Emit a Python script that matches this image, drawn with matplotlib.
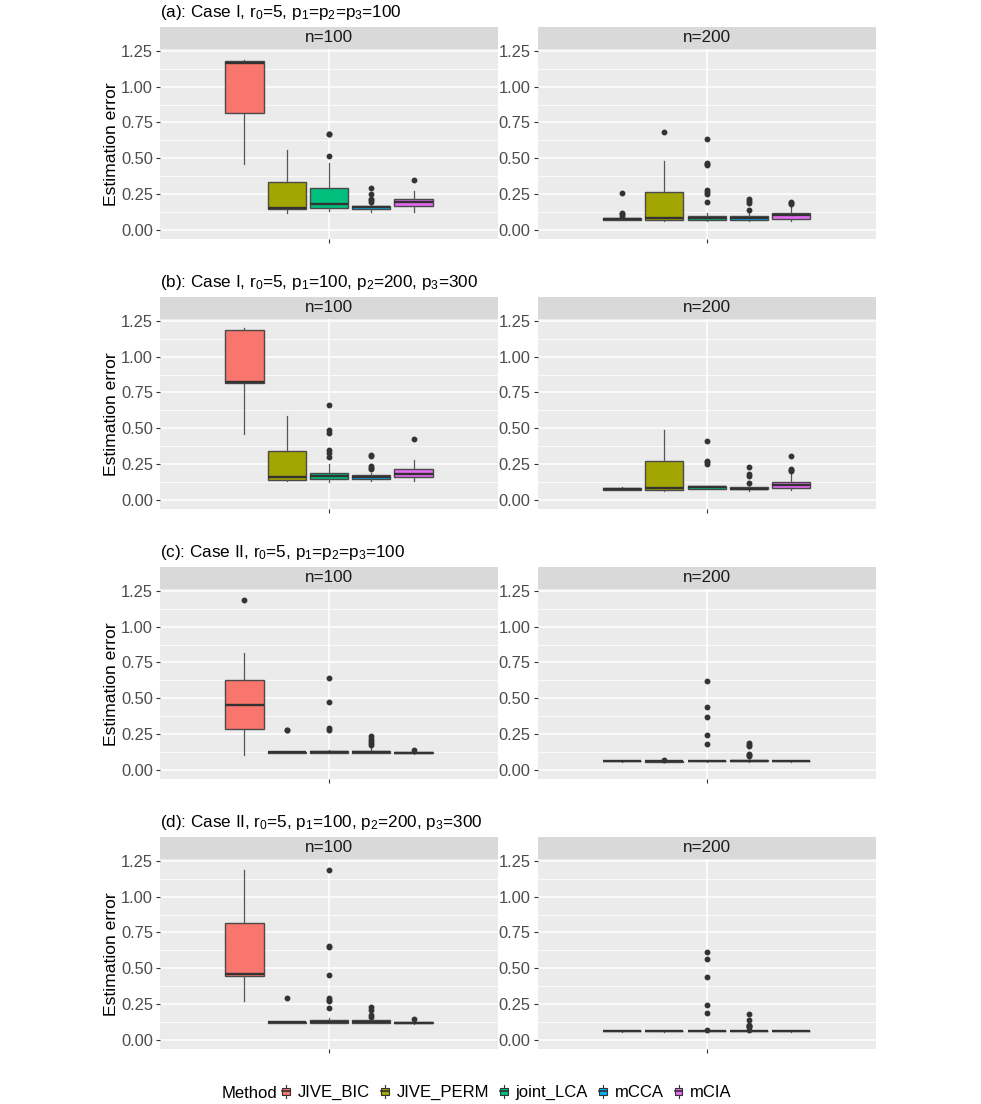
import matplotlib
matplotlib.use("Agg")
import matplotlib.pyplot as plt
import matplotlib.patches as mpatches
from matplotlib.lines import Line2D
from matplotlib.legend_handler import HandlerBase

METHODS = ["JIVE_BIC", "JIVE_PERM", "joint_LCA", "mCCA", "mCIA"]
COLORS = ["#F8766D", "#A3A500", "#00BF7D", "#00B0F6", "#E76BF3"]

ROW_TITLES = [
    r"(a): Case I, r$\mathregular{_0}$=5, p$\mathregular{_1}$=p$\mathregular{_2}$=p$\mathregular{_3}$=100",
    r"(b): Case I, r$\mathregular{_0}$=5, p$\mathregular{_1}$=100, p$\mathregular{_2}$=200, p$\mathregular{_3}$=300",
    r"(c): Case II, r$\mathregular{_0}$=5, p$\mathregular{_1}$=p$\mathregular{_2}$=p$\mathregular{_3}$=100",
    r"(d): Case II, r$\mathregular{_0}$=5, p$\mathregular{_1}$=100, p$\mathregular{_2}$=200, p$\mathregular{_3}$=300",
]
FACETS = ["n=100", "n=200"]
YTICKS = [0.00, 0.25, 0.50, 0.75, 1.00, 1.25]

# box stats: (whisker low, q1, median, q3, whisker high)
A100_STATS = [(0.460, 0.815, 1.165, 1.175, 1.185),
              (0.116, 0.144, 0.155, 0.337, 0.557),
              (0.132, 0.151, 0.179, 0.295, 0.465),
              (0.123, 0.144, 0.158, 0.169, 0.180),
              (0.123, 0.167, 0.193, 0.214, 0.274)]
A100_OUT = [[], [], [0.518, 0.669, 0.672],
            [0.195, 0.209, 0.215, 0.251, 0.290], [0.348]]

A200_STATS = [(0.068, 0.072, 0.078, 0.083, 0.092),
              (0.063, 0.070, 0.081, 0.267, 0.481),
              (0.065, 0.072, 0.086, 0.100, 0.115),
              (0.063, 0.069, 0.083, 0.095, 0.116),
              (0.065, 0.079, 0.105, 0.116, 0.163)]
A200_OUT = [[0.100, 0.108, 0.116, 0.260], [0.681],
            [0.197, 0.250, 0.265, 0.280, 0.450, 0.460, 0.470, 0.634],
            [0.139, 0.186, 0.200, 0.214], [0.179, 0.190, 0.197]]

B100_STATS = [(0.459, 0.814, 0.826, 1.185, 1.197),
              (0.130, 0.141, 0.160, 0.339, 0.587),
              (0.125, 0.146, 0.169, 0.186, 0.250),
              (0.130, 0.146, 0.160, 0.172, 0.190),
              (0.135, 0.160, 0.181, 0.216, 0.281)]
B100_OUT = [[], [], [0.299, 0.327, 0.350, 0.466, 0.489, 0.661],
            [0.215, 0.225, 0.235, 0.304, 0.315], [0.422]]

B200_STATS = [(0.068, 0.072, 0.077, 0.082, 0.092),
              (0.063, 0.067, 0.083, 0.274, 0.485),
              (0.075, 0.080, 0.088, 0.095, 0.100),
              (0.065, 0.075, 0.080, 0.088, 0.100),
              (0.070, 0.081, 0.107, 0.123, 0.185)]
B200_OUT = [[], [], [0.250, 0.264, 0.275, 0.408],
            [0.118, 0.165, 0.181, 0.227], [0.200, 0.210, 0.218, 0.304]]

C100_STATS = [(0.104, 0.283, 0.452, 0.626, 0.816),
              (0.115, 0.118, 0.122, 0.126, 0.130),
              (0.115, 0.120, 0.125, 0.135, 0.140),
              (0.115, 0.120, 0.125, 0.132, 0.150),
              (0.112, 0.118, 0.121, 0.125, 0.128)]
C100_OUT = [[1.185], [0.278, 0.282], [0.280, 0.290, 0.475, 0.642],
            [0.175, 0.185, 0.200, 0.213, 0.237], [0.139]]

C200_STATS = [(0.058, 0.060, 0.062, 0.064, 0.066),
              (0.056, 0.058, 0.060, 0.062, 0.064),
              (0.058, 0.060, 0.063, 0.066, 0.070),
              (0.058, 0.060, 0.065, 0.072, 0.085),
              (0.058, 0.060, 0.062, 0.064, 0.066)]
C200_OUT = [[], [0.070], [0.183, 0.241, 0.371, 0.440, 0.624],
            [0.100, 0.105, 0.109, 0.165, 0.175, 0.188], []]

D100_STATS = [(0.271, 0.445, 0.457, 0.816, 1.185),
              (0.115, 0.118, 0.122, 0.126, 0.130),
              (0.115, 0.120, 0.125, 0.140, 0.150),
              (0.115, 0.120, 0.128, 0.140, 0.155),
              (0.112, 0.118, 0.121, 0.125, 0.130)]
D100_OUT = [[], [0.290],
            [0.225, 0.270, 0.280, 0.295, 0.450, 0.650, 0.658, 1.185],
            [0.162, 0.174, 0.206, 0.230], [0.148]]

D200_STATS = [(0.058, 0.060, 0.062, 0.064, 0.066),
              (0.058, 0.060, 0.062, 0.064, 0.066),
              (0.058, 0.060, 0.062, 0.065, 0.068),
              (0.058, 0.060, 0.062, 0.065, 0.068),
              (0.058, 0.060, 0.062, 0.064, 0.066)]
D200_OUT = [[], [], [0.070, 0.190, 0.241, 0.440, 0.566, 0.615],
            [0.072, 0.090, 0.095, 0.100, 0.104, 0.137, 0.179], []]

PANELS = [[(A100_STATS, A100_OUT), (A200_STATS, A200_OUT)],
          [(B100_STATS, B100_OUT), (B200_STATS, B200_OUT)],
          [(C100_STATS, C100_OUT), (C200_STATS, C200_OUT)],
          [(D100_STATS, D100_OUT), (D200_STATS, D200_OUT)]]

PANEL_BG = "#EBEBEB"
STRIP_BG = "#D9D9D9"
LINE_C = "#333333"
TICK_TXT = "#4D4D4D"

plt.rcParams.update({
    "font.family": ["Liberation Sans", "DejaVu Sans"],
    "mathtext.fontset": "custom",
    "mathtext.rm": "Liberation Sans",
})

W, H = 981, 1104
fig = plt.figure(figsize=(W / 100, H / 100), dpi=100)


def fx(px):
    return px / W


def fy(px):
    return 1 - px / H


class BoxKey(HandlerBase):
    def create_artists(self, legend, orig_handle, xdescent, ydescent,
                       width, height, fontsize, trans):
        fc = orig_handle.get_facecolor()
        cx = width / 2 - xdescent
        bw = width * 0.75
        y0 = -ydescent
        whisk = Line2D([cx, cx], [y0 + 0.05 * height, y0 + 0.95 * height],
                       color=LINE_C, lw=0.8, transform=trans)
        box = mpatches.Rectangle((cx - bw / 2, y0 + 0.25 * height), bw, 0.5 * height,
                                 facecolor=fc, edgecolor=LINE_C, lw=0.8,
                                 transform=trans)
        med = Line2D([cx - bw / 2, cx + bw / 2], [y0 + 0.5 * height] * 2,
                     color=LINE_C, lw=1.2, transform=trans)
        return [whisk, box, med]


panel_x = [(160, 498), (537.5, 876)]
positions = [1 + (i - 2) * 0.15 for i in range(len(METHODS))]

for r, row in enumerate(PANELS):
    off = 270 * r
    strip_top = 26.7 + off
    strip_bot = 49.3 + off
    panel_bot = 239.3 + off

    fig.text(fx(160), fy(12.5 + off), ROW_TITLES[r], fontsize=12.3,
             color="black", ha="left", va="center")
    fig.text(fx(112), fy((strip_bot + panel_bot) / 2), "Estimation error",
             fontsize=12.6, color="black", rotation=90, ha="center",
             va="center")

    for c, (stats, outs) in enumerate(row):
        x0, x1 = panel_x[c]
        ax = fig.add_axes([fx(x0), fy(panel_bot), fx(x1 - x0),
                           (panel_bot - strip_bot) / H])
        ax.set_facecolor(PANEL_BG)
        for s in ax.spines.values():
            s.set_visible(False)

        bstats = []
        for (lo, q1, med, q3, hi), fl in zip(stats, outs):
            bstats.append(dict(whislo=lo, q1=q1, med=med, q3=q3, whishi=hi,
                               fliers=fl))
        bp = ax.bxp(bstats, positions=positions, widths=0.135,
                    patch_artist=True, showcaps=False, manage_ticks=False,
                    boxprops=dict(edgecolor="#4a4a4a", lw=1.0),
                    medianprops=dict(color=LINE_C, lw=1.7),
                    whiskerprops=dict(color="#555555", lw=0.9),
                    flierprops=dict(marker="o", markersize=3.2,
                                    markerfacecolor=LINE_C,
                                    markeredgecolor=LINE_C))
        for patch, col in zip(bp["boxes"], COLORS):
            patch.set_facecolor(col)

        ax.set_xlim(0.4, 1.6)
        ax.set_ylim(-0.065, 1.26)
        ax.set_yticks(YTICKS)
        ax.set_yticklabels([f"{t:.2f}" for t in YTICKS])
        ax.set_yticks([0.125, 0.375, 0.625, 0.875, 1.125], minor=True)
        ax.set_xticks([1.0])
        ax.set_xticklabels([""])
        ax.tick_params(axis="y", which="major", length=3, width=0.8,
                       color=LINE_C, labelcolor=TICK_TXT, labelsize=11.9, pad=2)
        ax.tick_params(axis="y", which="minor", length=0)
        ax.tick_params(axis="x", length=3, width=0.8, color=LINE_C)
        ax.grid(True, which="major", color="white", lw=1.1)
        ax.grid(True, which="minor", axis="y", color="white", lw=0.55)
        ax.set_axisbelow(True)

        sax = fig.add_axes([fx(x0), fy(strip_bot), fx(x1 - x0),
                            (strip_bot - strip_top) / H])
        sax.set_facecolor(STRIP_BG)
        sax.set_xticks([])
        sax.set_yticks([])
        for s in sax.spines.values():
            s.set_visible(False)
        sax.text(0.5, 0.5, FACETS[c], transform=sax.transAxes, ha="center",
                 va="center", fontsize=12.3, color="#1A1A1A")

handles = [mpatches.Patch(facecolor=col, edgecolor=LINE_C) for col in COLORS]
fig.text(fx(222), fy(1092), "Method", fontsize=12.0, ha="left",
         va="center_baseline")
fig.legend(handles, METHODS, loc="center left",
           bbox_to_anchor=(fx(281), fy(1092)), ncol=5, frameon=False,
           fontsize=12.0, handler_map={mpatches.Patch: BoxKey()},
           handlelength=0.6, handleheight=1.0, handletextpad=0.4,
           columnspacing=0.6, borderaxespad=0, borderpad=0)

fig.savefig("out.png", dpi=100, facecolor="white")
